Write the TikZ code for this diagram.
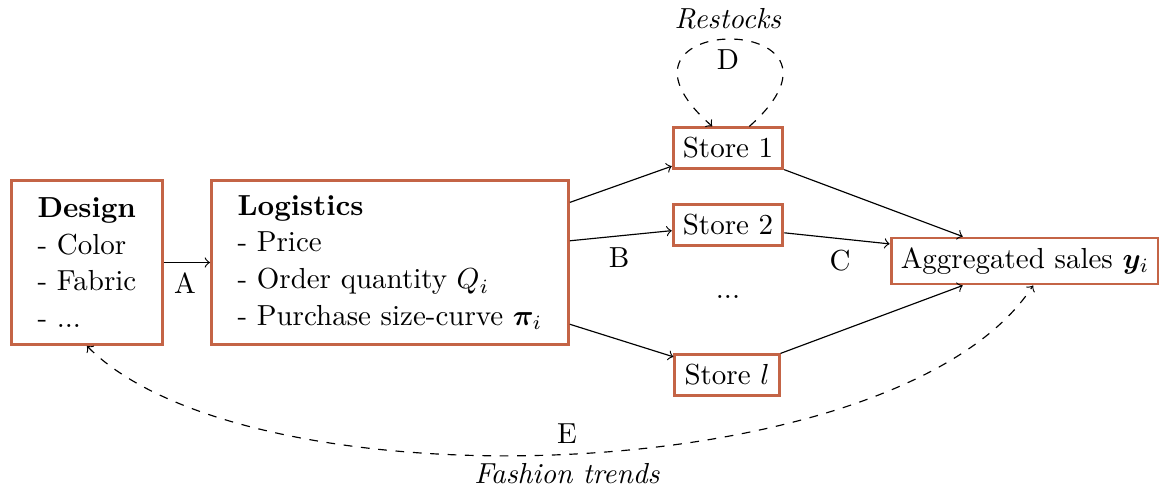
\documentclass[tikz,border=0pt]{standalone}
\usepackage{amsmath,bm}
\usetikzlibrary{calc}
\definecolor{rust}{RGB}{196,100,70}
\begin{document}
\begin{tikzpicture}[x=0.345pt,y=-0.345pt,
  box/.style={draw=rust,line width=1pt,fill=white,inner sep=3.33pt},
  bigbox/.style={box,align=left,anchor=north west,inner xsep=9pt,inner ysep=0pt,minimum height=56.6pt},
  arr/.style={->,black},
  darr/.style={->,black,dashed},
  lbl/.style={inner sep=1pt}]
\useasboundingbox (0,0) rectangle (1159,489);
\node[bigbox,minimum width=51.8pt] (des) at (10,179) {\textbf{Design}\\[0.7pt]- Color\\[0.7pt]- Fabric\\[0.7pt]- ...};
\node[bigbox,minimum width=122.4pt] (log) at (210,179) {\textbf{Logistics}\\[0.7pt]- Price\\[0.7pt]- Order quantity $Q_i$\\[0.7pt]- Purchase size-curve $\bm{\pi}_i$};
\node[box] (s1) at (728,148) {Store 1};
\node[box] (s2) at (728,225) {Store 2};
\node[box] (sl) at (727,375) {Store $l$};
\node[box] (agg) at (1025,261) {Aggregated sales $\bm{y}_i$};
\node[lbl] (dots) at (728,297) {...};
\draw[arr] (des.east) -- (log.west);
\draw[arr] ($(log.north east)!0.14!(log.south east)$) -- ($(s1.north west)!0.92!(s1.south west)$);
\draw[arr] ($(log.north east)!0.37!(log.south east)$) -- ($(s2.north west)!0.63!(s2.south west)$);
\draw[arr] ($(log.north east)!0.87!(log.south east)$) -- ($(sl.north west)!0.08!(sl.south west)$);
\draw[arr] (s1.south east) -- ($(agg.north west)!0.27!(agg.north east)$);
\draw[arr] ($(s2.north east)!0.68!(s2.south east)$) -- ($(agg.north west)!0.15!(agg.south west)$);
\draw[arr] (sl.north east) -- ($(agg.south west)!0.27!(agg.south east)$);
\draw[darr] ($(s1.north west)!0.69!(s1.north east)$) .. controls (880,10) and (580,10) .. ($(s1.north west)!0.36!(s1.north east)$);
\draw[darr,<->] (des.south) .. controls (250,510) and (900,490) .. ($(agg.south west)!0.53!(agg.south east)$);
\node[lbl] (la) at (185,283) {A};
\node[lbl] (lb) at (619,258) {B};
\node[lbl] (lc) at (840,261) {C};
\node[lbl] (ld) at (728,60) {D};
\node[lbl] (le) at (567,434) {E};
\node[lbl] (lr) at (728,19) {\textit{Restocks}};
\node[lbl] (lf) at (567,474) {\textit{Fashion trends}};
\end{tikzpicture}
\end{document}
